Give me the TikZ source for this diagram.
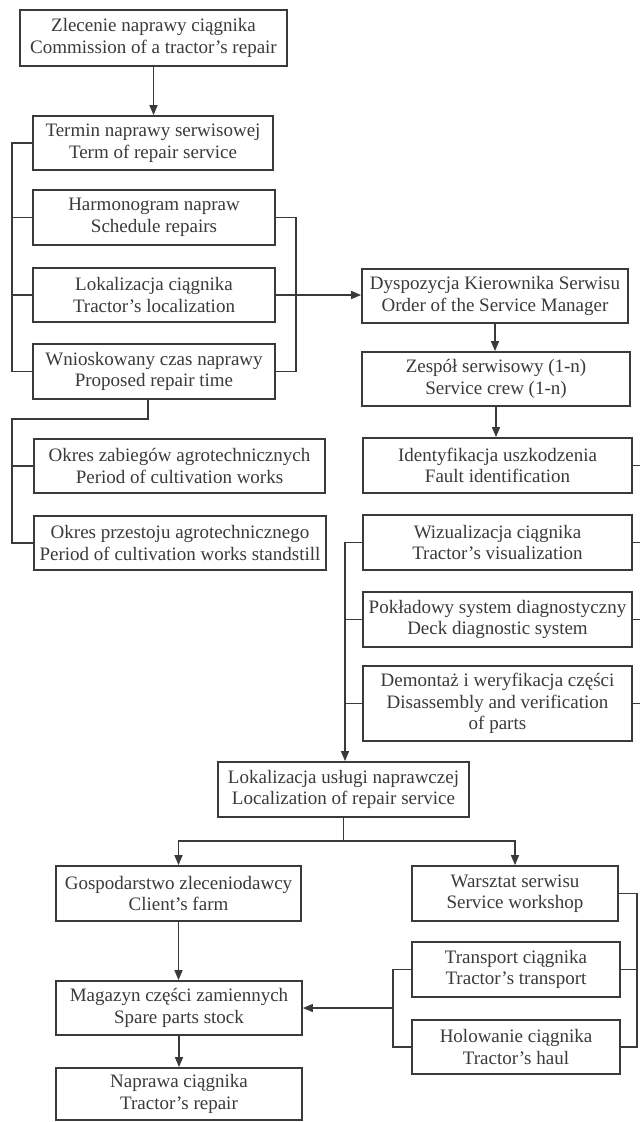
\documentclass[tikz,border=0pt]{standalone}
\usepackage{fontspec}
\setmainfont{Liberation Serif}
\usetikzlibrary{arrows.meta}
\definecolor{ink}{HTML}{3A3A3A}
\begin{document}
\begin{tikzpicture}[x=1pt,y=-1pt,
  box/.style={draw=ink, line width=1.8pt, text=ink, align=center, inner sep=1pt,
    font=\fontsize{19}{21.5}\selectfont},
  conn/.style={draw=ink, line width=1.5pt},
  arr/.style={conn, -{Triangle[length=10pt,width=8pt]}}]
\useasboundingbox (0,0) rectangle (640,1122);
\fill[white] (0,0) rectangle (640,1122);
% nodes
\node[box, minimum width=267pt, minimum height=56pt] (zlec) at (153.5,38) {Zlecenie naprawy ciągnika\\Commission of a tractor’s repair};
\node[box, minimum width=240pt, minimum height=54pt] (termin) at (153,143) {Termin naprawy serwisowej\\Term of repair service};
\node[box, minimum width=242pt, minimum height=55pt] (harmo) at (154,217.5) {Harmonogram napraw\\Schedule repairs};
\node[box, minimum width=242pt, minimum height=54pt] (lokc) at (154,295) {Lokalizacja ciągnika\\Tractor’s localization};
\node[box, minimum width=242pt, minimum height=55pt] (wnio) at (154,371.5) {Wnioskowany czas naprawy\\Proposed repair time};
\node[box, minimum width=291pt, minimum height=54pt] (okres1) at (179.5,466) {Okres zabiegów agrotechnicznych\\Period of cultivation works};
\node[box, minimum width=292pt, minimum height=54pt] (okres2) at (180,543) {Okres przestoju agrotechnicznego\\Period of cultivation works standstill};
\node[box, minimum width=266pt, minimum height=54pt] (dysp) at (495,296) {Dyspozycja Kierownika Serwisu\\Order of the Service Manager};
\node[box, minimum width=268pt, minimum height=54pt] (zesp) at (496,379) {Zespół serwisowy (1-n)\\Service crew (1-n)};
\node[box, minimum width=269pt, minimum height=55pt] (ident) at (497.5,465.5) {Identyfikacja uszkodzenia\\Fault identification};
\node[box, minimum width=269pt, minimum height=55pt] (wiz) at (497.5,542.5) {Wizualizacja ciągnika\\Tractor’s visualization};
\node[box, minimum width=269pt, minimum height=55pt] (pokl) at (497.5,619.5) {Pokładowy system diagnostyczny\\Deck diagnostic system};
\node[box, minimum width=269pt, minimum height=75pt] (demo) at (497.5,703.5) {Demontaż i weryfikacja części\\Disassembly and verification\\of parts};
\node[box, minimum width=251pt, minimum height=55pt] (lokus) at (343.5,789.5) {Lokalizacja usługi naprawczej\\Localization of repair service};
\node[box, minimum width=245pt, minimum height=55pt] (gosp) at (178.5,893.5) {Gospodarstwo zleceniodawcy\\Client’s farm};
\node[box, minimum width=206pt, minimum height=55pt] (warsz) at (515,893.5) {Warsztat serwisu\\Service workshop};
\node[box, minimum width=246pt, minimum height=54pt] (magaz) at (179,1008) {Magazyn części zamiennych\\Spare parts stock};
\node[box, minimum width=246pt, minimum height=52pt] (napr) at (179,1094) {Naprawa ciągnika\\Tractor’s repair};
\node[box, minimum width=208pt, minimum height=55pt] (trans) at (516,969.5) {Transport ciągnika\\Tractor’s transport};
\node[box, minimum width=208pt, minimum height=54pt] (holow) at (516,1047) {Holowanie ciągnika\\Tractor’s haul};
% helper coordinates
\coordinate (lb) at (12,0);
\coordinate (rb) at (296,0);
\coordinate (wx) at (148,0);
\coordinate (cb) at (345,0);
\coordinate (db) at (393,0);
\coordinate (eb) at (637,0);
\coordinate (edge) at (640,0);
\coordinate (hl) at (0,841);
% connectors
\draw[arr] (zlec.south) -- (zlec.south |- termin.north);
\draw[conn] (termin.west) -- (termin.west -| lb) -- (wnio.west -| lb) -- (wnio.west);
\draw[conn] (harmo.west) -- (harmo.west -| lb);
\draw[conn] (lokc.west) -- (lokc.west -| lb);
\draw[conn] (harmo.east) -- (harmo.east -| rb) -- (wnio.east -| rb) -- (wnio.east);
\draw[arr] (lokc.east) -- (lokc.east -| dysp.west);
\draw[conn] (wnio.south -| wx) -- ++(0,19) -| (okres2.west -| lb) -- (okres2.west);
\draw[conn] (okres1.west) -- (okres1.west -| lb);
\draw[arr] (dysp.south) -- (dysp.south |- zesp.north);
\draw[arr] (zesp.south) -- (zesp.south |- ident.north);
\foreach \n in {ident,wiz,pokl,demo} \draw[conn] (\n.east) -- (\n.east -| edge);
\draw[arr] (wiz.west) -- (wiz.west -| cb) -- (lokus.north -| cb);
\draw[conn] (pokl.west) -- (pokl.west -| cb);
\draw[conn] (demo.west) -- (demo.west -| cb);
\draw[conn] (lokus.south) -- (lokus.south |- hl);
\draw[arr] (lokus.south |- hl) -| (gosp.north);
\draw[arr] (lokus.south |- hl) -| (warsz.north);
\draw[arr] (gosp.south) -- (gosp.south |- magaz.north);
\draw[arr] (magaz.south) -- (magaz.south |- napr.north);
\draw[conn] (warsz.east) -- (warsz.east -| eb) -- (holow.east -| eb) -- (holow.east);
\draw[conn] (trans.east) -- (trans.east -| eb);
\draw[conn] (trans.west) -- (trans.west -| db) -- (holow.west -| db) -- (holow.west);
\draw[arr] (magaz.east -| db) -- (magaz.east);
\end{tikzpicture}
\end{document}
